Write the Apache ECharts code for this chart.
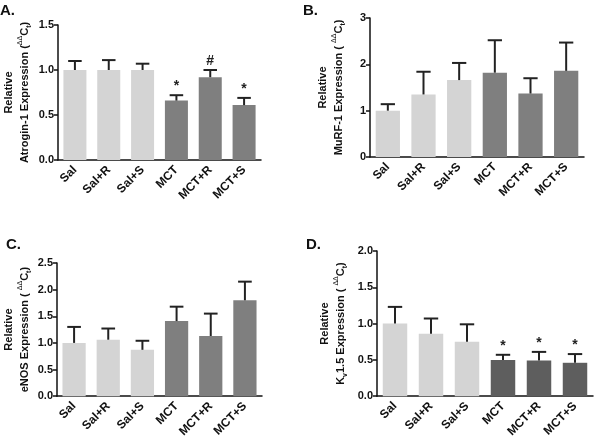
<!DOCTYPE html>
<html>
<head>
<meta charset="utf-8">
<script src="https://cdn.jsdelivr.net/npm/echarts@6/dist/echarts.min.js"></script>
<style>html,body{margin:0;padding:0;background:#fff}#c{width:600px;height:440px}</style>
</head>
<body>
<div id="c"></div>
<script>
var categories = ['Sal', 'Sal+R', 'Sal+S', 'MCT', 'MCT+R', 'MCT+S'];

var atroginMean = [1.00, 1.00, 1.00, 0.66, 0.92, 0.61];
var atroginSem  = [0.10, 0.11, 0.07, 0.06, 0.08, 0.08];
var atroginMarks = ['', '', '', '*', '#', '*'];
var atroginTicks = ['0.0', '0.5', '1.0', '1.5'];

var murfMean = [1.00, 1.35, 1.66, 1.82, 1.37, 1.86];
var murfSem  = [0.14, 0.49, 0.37, 0.70, 0.33, 0.61];
var murfMarks = ['', '', '', '', '', ''];
var murfTicks = ['0', '1', '2', '3'];

var enosMean = [1.00, 1.06, 0.87, 1.41, 1.13, 1.80];
var enosSem  = [0.30, 0.21, 0.17, 0.27, 0.42, 0.35];
var enosMarks = ['', '', '', '', '', ''];
var enosTicks = ['0.0', '0.5', '1.0', '1.5', '2.0', '2.5'];

var kvMean = [1.00, 0.86, 0.75, 0.50, 0.49, 0.46];
var kvSem  = [0.23, 0.21, 0.24, 0.07, 0.12, 0.12];
var kvMarks = ['', '', '', '*', '*', '*'];
var kvTicks = ['0.0', '0.5', '1.0', '1.5', '2.0'];

var FONT = '"Liberation Sans", Arial, Helvetica, sans-serif';

var panels = [
  {letter: 'A.', lx: 0, ly: 3, grid: {left: 57, top: 25, width: 204, height: 135},
   mean: atroginMean, sem: atroginSem, marks: atroginMarks, ticks: atroginTicks, interval: 0.5,
   name: 'Relative\nAtrogin-1 Expression ({sup|ΔΔ}C{sub|t})', gap: 25, dark: '#7f7f7f'},
  {letter: 'B.', lx: 303, ly: 3, grid: {left: 370, top: 18, width: 214, height: 139},
   mean: murfMean, sem: murfSem, marks: murfMarks, ticks: murfTicks, interval: 1,
   name: 'Relative\nMuRF-1 Expression ( {sup|ΔΔ}C{sub|t})', gap: 23, dark: '#7f7f7f'},
  {letter: 'C.', lx: 6, ly: 237, grid: {left: 57, top: 263, width: 205, height: 136},
   mean: enosMean, sem: enosSem, marks: enosMarks, ticks: enosTicks, interval: 0.5,
   name: 'Relative\neNOS Expression ( {sup|ΔΔ}C{sub|t})', gap: 24, dark: '#7f7f7f'},
  {letter: 'D.', lx: 306, ly: 237, grid: {left: 377, top: 251, width: 216, height: 146},
   mean: kvMean, sem: kvSem, marks: kvMarks, ticks: kvTicks, interval: 0.5,
   name: 'Relative\nK{sub|v}1.5 Expression ( {sup|ΔΔ}C{sub|t})', gap: 28, dark: '#5e5e5e'}
];

var grids = [], xAxes = [], yAxes = [], series = [], graphics = [];

panels.forEach(function (p, i) {
  grids.push(p.grid);
  xAxes.push({
    type: 'category', gridIndex: i, data: categories,
    axisLine: {lineStyle: {color: '#111', width: 1.5}},
    axisTick: {alignWithLabel: true, length: 4, lineStyle: {color: '#111', width: 1.5}},
    axisLabel: {rotate: 45, fontSize: 12, fontWeight: 'bold', color: '#111', fontFamily: FONT, margin: 8, interval: 0}
  });
  var maxV = p.interval * (p.ticks.length - 1);
  yAxes.push({
    type: 'value', gridIndex: i, min: 0, max: maxV, interval: p.interval,
    splitLine: {show: false},
    axisLine: {show: true, lineStyle: {color: '#111', width: 1.5}},
    axisTick: {show: true, length: 4, lineStyle: {color: '#111', width: 1.5}},
    axisLabel: {fontSize: 11, fontWeight: 'bold', color: '#111', fontFamily: FONT, margin: 4,
      formatter: (function (ticks, iv) { return function (v) { return ticks[Math.round(v / iv)]; }; })(p.ticks, p.interval)},
    name: p.name, nameLocation: 'middle', nameRotate: 90, nameGap: p.gap,
    nameTextStyle: {fontSize: 11, fontWeight: 'bold', color: '#111', fontFamily: FONT, lineHeight: 16, align: 'center',
      rich: {
        sup: {fontSize: 7, fontWeight: 'normal', color: '#111', fontFamily: FONT, verticalAlign: 'top', lineHeight: 16},
        sub: {fontSize: 7, fontWeight: 'bold', color: '#111', fontFamily: FONT, verticalAlign: 'bottom', lineHeight: 12}
      }}
  });
  series.push({
    type: 'bar', xAxisIndex: i, yAxisIndex: i, data: p.mean, barWidth: '68%',
    itemStyle: {color: (function (dark) { return function (params) { return params.dataIndex < 3 ? '#d4d4d4' : dark; }; })(p.dark)},
    silent: true, animation: false
  });
  var errData = p.mean.map(function (m, k) { return [k, m, m + p.sem[k], p.marks[k]]; });
  series.push({
    type: 'custom', xAxisIndex: i, yAxisIndex: i, data: errData, animation: false, silent: true, z: 5,
    renderItem: function (params, api) {
      var x = api.value(0), m = api.value(1), t = api.value(2);
      var mark = errData[params.dataIndex][3];
      var p0 = api.coord([x, m]);
      var p1 = api.coord([x, t]);
      var half = api.size([1, 0])[0] * 0.2;
      var st = {stroke: '#222', lineWidth: 2};
      var children = [
        {type: 'line', shape: {x1: p0[0], y1: p0[1], x2: p1[0], y2: p1[1]}, style: st},
        {type: 'line', shape: {x1: p1[0] - half, y1: p1[1], x2: p1[0] + half, y2: p1[1]}, style: st}
      ];
      if (mark) {
        children.push({type: 'text', style: {text: mark, x: p1[0], y: p1[1] - 2, align: 'center', verticalAlign: 'bottom',
          fontSize: 14, fontWeight: 'bold', fill: '#222', fontFamily: FONT}});
      }
      return {type: 'group', children: children};
    }
  });
  graphics.push({type: 'text', left: p.lx, top: p.ly, style: {text: p.letter, fontSize: 15, fontWeight: 'bold', fill: '#111', fontFamily: FONT}});
});

var chart = echarts.init(document.getElementById('c'), null, {renderer: 'canvas'});
chart.setOption({
  animation: false,
  backgroundColor: '#fff',
  grid: grids, xAxis: xAxes, yAxis: yAxes, series: series, graphic: graphics
});
</script>
</body>
</html>
